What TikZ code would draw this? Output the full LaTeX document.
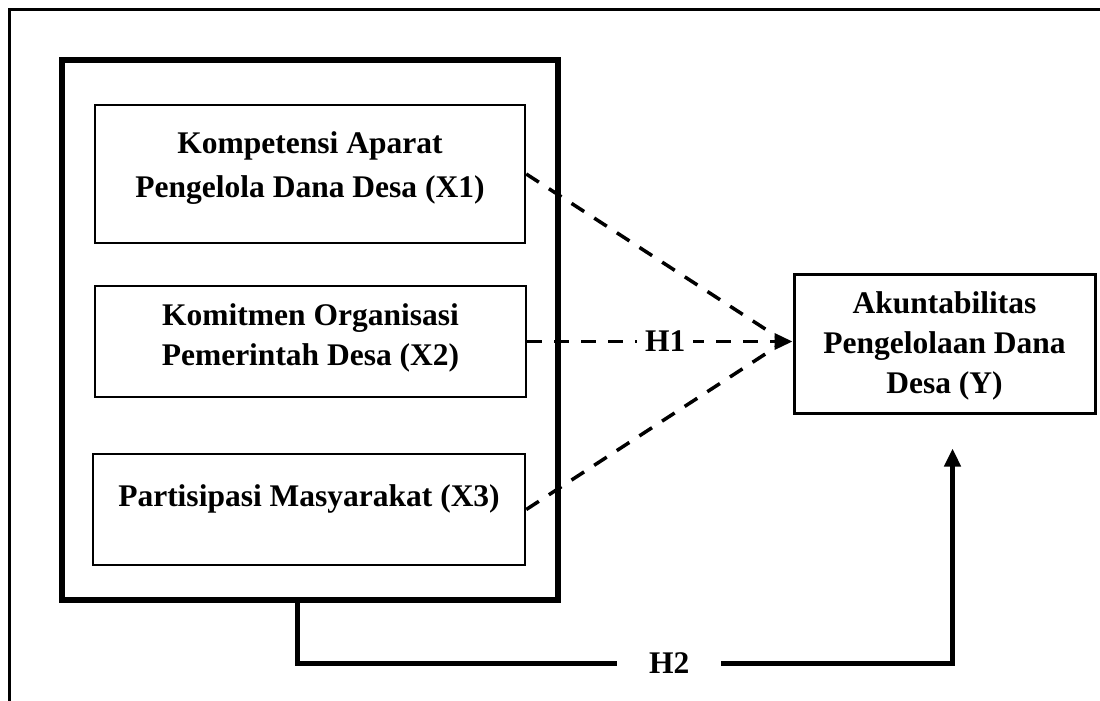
\documentclass[tikz,border=0pt]{standalone}
\usepackage{fontspec}
\setmainfont{Liberation Serif}
\usetikzlibrary{arrows.meta}
\begin{document}
\begin{tikzpicture}[x=1pt,y=-1pt,
  txt/.style={font=\fontsize{31.5}{40}\selectfont\bfseries},
  box/.style={draw,line width=2.5pt,inner sep=0pt,align=center,txt},
  dashline/.style={line width=3.5pt,dash pattern=on 15pt off 12pt},
  tip/.style={-{Triangle[length=18pt,width=16pt]}},
  lbl/.style={fill=white,inner ysep=2pt,txt}]
\useasboundingbox (0,0) rectangle (1100,701);
\clip (0,0) rectangle (1100,701);
\draw[line width=3pt] (9,10) rectangle (1130,730);
\node[draw,line width=6pt,minimum width=496pt,minimum height=540pt] (grp) at (310,330) {};
\node[box,minimum width=430pt,minimum height=138pt,text depth=18pt] (X1) at (310,174) {Kompetensi Aparat\\[4pt]Pengelola Dana Desa (X1)};
\node[box,minimum width=431pt,minimum height=111pt,text depth=14pt] (X2) at (310.5,341.5) {Komitmen Organisasi\\Pemerintah Desa (X2)};
\node[box,minimum width=432pt,minimum height=111pt,text depth=28pt] (X3) at (309,509.5) {Partisipasi Masyarakat (X3)};
\node[box,line width=3pt,minimum width=301pt,minimum height=139pt,text depth=2pt] (Y) at (944.5,343.5) {Akuntabilitas\\Pengelolaan Dana\\Desa (Y)};
\coordinate (conv) at ([xshift=-8pt]Y.west |- X2.east);
\path
  (X1.east) edge [dashline] (conv)
  (X3.east) edge [dashline] (conv)
  (X2.east) edge [dashline, tip] node [lbl, pos=0.52, inner xsep=8pt] {H1} (X2.east -| Y.west)
;
\draw[line width=5pt, tip] ([xshift=238pt]grp.south west) -- ++(0,60) -| node [lbl, pos=0.284, inner xsep=32pt] {H2} ([xshift=8pt,yshift=-34pt]Y.south);
\end{tikzpicture}
\end{document}
